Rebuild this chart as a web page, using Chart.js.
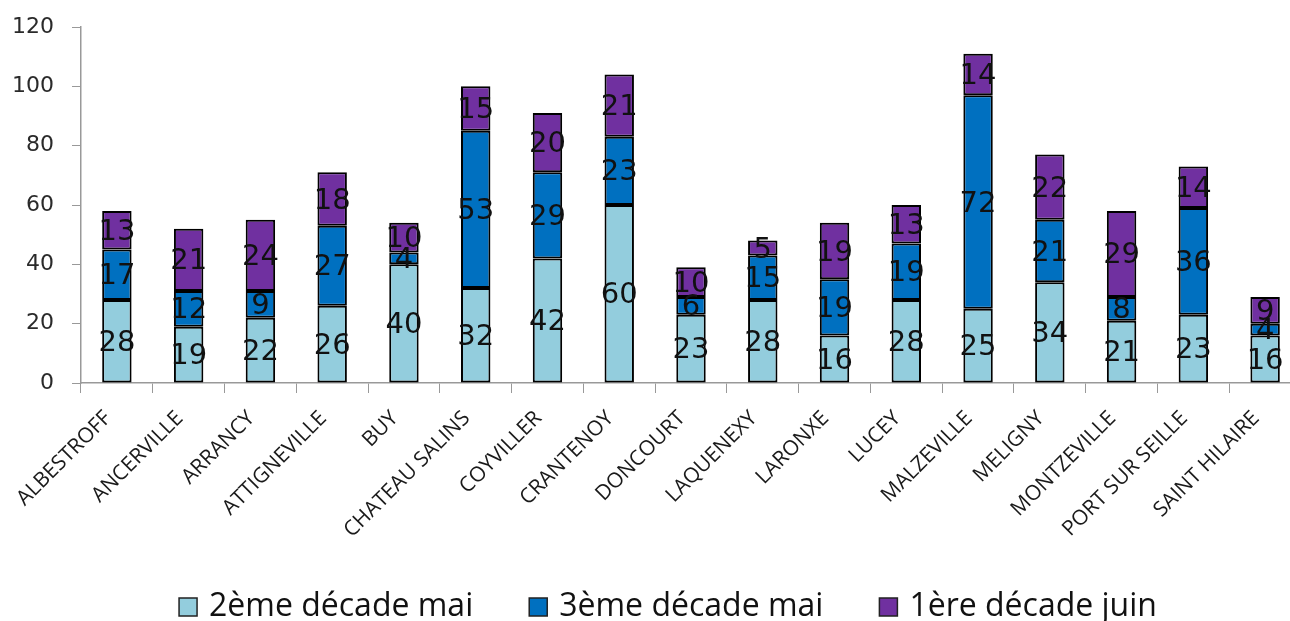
<!DOCTYPE html>
<html>
<head>
<meta charset="utf-8">
<script src="https://cdn.jsdelivr.net/npm/chart.js@4"></script>
<style>
    html, body { margin: 0; padding: 0; background: #fff; overflow: hidden; }
    #wrap { width: 1301px; height: 621px; }
</style>
</head>
<body>
<div id="wrap"><canvas id="chart"></canvas></div>
<script>
const communes = ['ALBESTROFF', 'ANCERVILLE', 'ARRANCY', 'ATTIGNEVILLE', 'BUY', 'CHATEAU SALINS', 'COYVILLER', 'CRANTENOY', 'DONCOURT', 'LAQUENEXY', 'LARONXE', 'LUCEY', 'MALZEVILLE', 'MELIGNY', 'MONTZEVILLE', 'PORT SUR SEILLE', 'SAINT HILAIRE'];
const decade2Mai = [28, 19, 22, 26, 40, 32, 42, 60, 23, 28, 16, 28, 25, 34, 21, 23, 16];
const decade3Mai = [17, 12, 9, 27, 4, 53, 29, 23, 6, 15, 19, 19, 72, 21, 8, 36, 4];
const decade1Juin = [13, 21, 24, 18, 10, 15, 20, 21, 10, 5, 19, 13, 14, 22, 29, 14, 9];
const yTicks = [0, 20, 40, 60, 80, 100, 120];

const ctx = document.getElementById('chart');

// valeurs au centre de chaque segment
const valueLabels = {
    id: 'valueLabels',
    afterDatasetsDraw(chart) {
        const c = chart.ctx;
        c.save();
        c.font = '29px "DejaVu Sans"';
        c.fillStyle = '#111';
        c.textAlign = 'center';
        c.textBaseline = 'middle';
        chart.data.datasets.forEach((ds, i) => {
            chart.getDatasetMeta(i).data.forEach((bar, j) => {
                const p = bar.getProps(['x', 'y', 'base'], true);
                c.fillText(ds.data[j], p.x, (p.y + p.base) / 2 + 2);
            });
        });
        c.restore();
    }
};

// légende en bas, espacée comme l'original
const bottomLegend = {
    id: 'bottomLegend',
    afterDraw(chart) {
        const c = chart.ctx;
        const box = 18, gapText = 12, gapItem = 56, midX = 668, midY = 607;
        c.save();
        c.font = '32px "Open Sans"';
        c.textBaseline = 'middle';
        const items = chart.data.datasets.map(ds => ({
            ds, w: box + gapText + c.measureText(ds.label).width
        }));
        const total = items.reduce((s, it) => s + it.w, 0) + gapItem * (items.length - 1);
        let x = midX - total / 2;
        items.forEach(it => {
            c.fillStyle = it.ds.backgroundColor;
            c.fillRect(x, midY - box / 2, box, box);
            c.strokeStyle = '#222';
            c.lineWidth = 1.5;
            c.strokeRect(x, midY - box / 2, box, box);
            c.fillStyle = '#111';
            c.fillText(it.ds.label, x + box + gapText, midY);
            x += it.w + gapItem;
        });
        c.restore();
    }
};

const noScalePadding = (scale) => {
    scale.paddingTop = 0;
    scale.paddingBottom = 0;
    scale.paddingLeft = 0;
    scale.paddingRight = 0;
};

new Chart(ctx, {
    type: 'bar',
    data: {
        labels: communes,
        datasets: [
            { label: '2ème décade mai', data: decade2Mai, backgroundColor: '#93CDDD' },
            { label: '3ème décade mai', data: decade3Mai, backgroundColor: '#0070C0' },
            { label: '1ère décade juin', data: decade1Juin, backgroundColor: '#7030A0' }
        ].map(ds => Object.assign(ds, {
            borderColor: '#000',
            borderWidth: 2,
            borderSkipped: false,
            barPercentage: 0.41,
            categoryPercentage: 1
        }))
    },
    options: {
        responsive: true,
        maintainAspectRatio: false,
        animation: false,
        layout: { autoPadding: false, padding: { top: 27, right: 0, left: 0, bottom: 80 } },
        plugins: {
            legend: { display: false },
            tooltip: { enabled: false }
        },
        scales: {
            x: {
                stacked: true,
                grid: { drawOnChartArea: false, tickLength: 10, offset: true, color: '#999' },
                border: { color: '#999', width: 1.5 },
                ticks: {
                    minRotation: 45,
                    maxRotation: 45,
                    autoSkip: false,
                    padding: 13,
                    labelOffset: -9,
                    font: { size: 21, family: '"Open Sans"' },
                    color: '#1a1a1a'
                },
                afterFit: (scale) => { scale.height = 158; noScalePadding(scale); }
            },
            y: {
                stacked: true,
                min: 0,
                max: 120,
                afterBuildTicks: (scale) => { scale.ticks = yTicks.map(v => ({ value: v })); },
                grid: { drawOnChartArea: false, tickLength: 9, color: '#999' },
                border: { color: '#999', width: 1.5 },
                ticks: {
                    font: { size: 22, family: '"DejaVu Sans"' },
                    color: '#2a2a2a',
                    padding: 18
                },
                afterFit: (scale) => { scale.width = 81; noScalePadding(scale); }
            }
        }
    },
    plugins: [valueLabels, bottomLegend]
});
</script>
</body>
</html>
